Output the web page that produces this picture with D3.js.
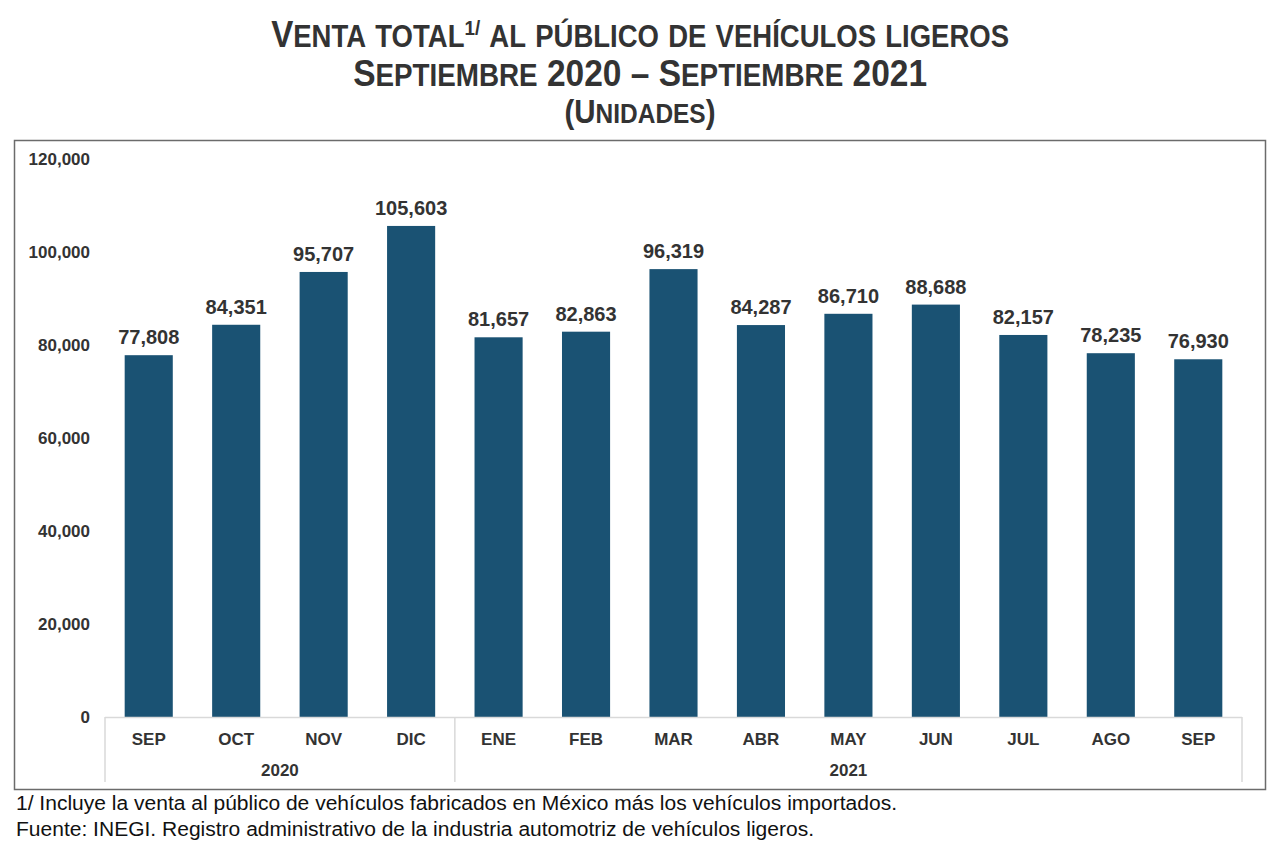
<!DOCTYPE html>
<html><head><meta charset="utf-8">
<script src="https://cdn.jsdelivr.net/npm/d3@7"></script>
<style>
body{margin:0;background:#fff;}
svg{display:block;}
</style></head>
<body>
<svg id="chart" width="1280" height="854"></svg>
<script>
const months = ["SEP","OCT","NOV","DIC","ENE","FEB","MAR","ABR","MAY","JUN","JUL","AGO","SEP"];
const years = ["2020","2020","2020","2020","2021","2021","2021","2021","2021","2021","2021","2021","2021"];
const values = [77808,84351,95707,105603,81657,82863,96319,84287,86710,88688,82157,78235,76930];
const yTicks = [0,20000,40000,60000,80000,100000,120000];
const yearGroups = ["2020","2021"];

const svg = d3.select("#chart");
const W = 1280, H = 854;
const sans = "'Liberation Sans',Arial,sans-serif";
const txt = "#333333";

svg.append("rect").attr("width",W).attr("height",H).attr("fill","#fff");

// Frame
svg.append("rect").attr("x",14.5).attr("y",140.5).attr("width",1251).attr("height",649)
  .attr("fill","none").attr("stroke","#6b6b6b").attr("stroke-width",1.5);

// Small caps helper
function smallCaps(sel, str, size, ratio, firstDy){
  const runs = [];
  for (const ch of str){
    const isLower = ch !== ch.toUpperCase();
    const type = isLower ? "s" : "b";
    if (runs.length && runs[runs.length-1].t === type) runs[runs.length-1].s += ch;
    else runs.push({t:type, s:ch});
  }
  runs.forEach((r,i) => {
    const ts = sel.append("tspan").attr("font-size", r.t==="s" ? size*ratio : size)
      .text(r.t==="s" ? r.s.toUpperCase() : r.s);
    if (i===0 && firstDy) ts.attr("dy", firstDy);
  });
}
// squeeze a centred line horizontally to a target width
function fitCentered(g, cx, target){
  const bb = g.node().getBBox();
  const s = target / bb.width;
  g.attr("transform", `translate(${cx},0) scale(${s},1) translate(${-cx},0)`);
}

const title = svg.append("g").attr("font-family",sans).attr("font-weight","bold").attr("fill",txt).attr("text-anchor","middle");
const g1 = title.append("g");
const t1 = g1.append("text").attr("x",640).attr("y",47).attr("xml:space","preserve");
smallCaps(t1, "Venta total", 37, 0.83);
t1.append("tspan").attr("font-size",21).attr("dy",-12).text("1/");
smallCaps(t1, " al público de vehículos ligeros", 37, 0.83, 12);
fitCentered(g1, 641, 738);
const g2 = title.append("g");
const t2 = g2.append("text").attr("x",640).attr("y",86);
smallCaps(t2, "Septiembre 2020 – Septiembre 2021", 37, 0.83);
fitCentered(g2, 641, 574);
const g3 = title.append("g");
const t3 = g3.append("text").attr("x",640).attr("y",123);
smallCaps(t3, "(Unidades)", 33, 0.83);
fitCentered(g3, 640, 151);

// Scales
const x = d3.scaleBand().domain(d3.range(months.length)).range([105,1242]).paddingInner(0.45).paddingOuter(0.225);
const y = d3.scaleLinear().domain([0,120000]).range([717,159]);

// Y axis
const yAxis = d3.axisLeft(y).tickValues(yTicks).tickSize(0).tickPadding(0).tickFormat(d3.format(","));
const ya = svg.append("g").attr("transform","translate(90,0)").call(yAxis);
ya.select(".domain").remove();
ya.selectAll("text").attr("font-family",sans).attr("font-weight","bold").attr("font-size",17).attr("fill",txt);

// Bars
svg.append("g").selectAll("rect").data(values).join("rect")
  .attr("x",(d,i)=>x(i)).attr("y",d=>y(d)).attr("width",x.bandwidth()).attr("height",d=>y(0)-y(d))
  .attr("fill","#1a5273");

// Value labels
svg.append("g").selectAll("text").data(values).join("text")
  .attr("x",(d,i)=>x(i)+x.bandwidth()/2).attr("y",d=>y(d)-11)
  .attr("text-anchor","middle").attr("font-family",sans).attr("font-weight","bold").attr("font-size",20).attr("fill",txt)
  .text(d=>d3.format(",")(d));

// X axis line
const axisCol = "#d9d9d9";
svg.append("line").attr("x1",105).attr("x2",1242).attr("y1",717.5).attr("y2",717.5).attr("stroke",axisCol).attr("stroke-width",1.5);

// Group separators
const step = x.step();
const bounds = [0];
yearGroups.forEach(g => { bounds.push(bounds[bounds.length-1] + years.filter(v=>v===g).length); });
svg.append("g").selectAll("line").data(bounds).join("line")
  .attr("x1",b=>105+b*step).attr("x2",b=>105+b*step).attr("y1",717).attr("y2",782)
  .attr("stroke",axisCol).attr("stroke-width",1.5);

// Month labels
svg.append("g").selectAll("text").data(months).join("text")
  .attr("x",(d,i)=>x(i)+x.bandwidth()/2).attr("y",745)
  .attr("text-anchor","middle").attr("font-family",sans).attr("font-weight","bold").attr("font-size",17).attr("fill",txt)
  .text(d=>d);

// Year labels
svg.append("g").selectAll("text").data(yearGroups).join("text")
  .attr("x",(g,i)=>105+(bounds[i]+bounds[i+1])/2*step).attr("y",776)
  .attr("text-anchor","middle").attr("font-family",sans).attr("font-weight","bold").attr("font-size",17).attr("fill",txt)
  .text(d=>d);

// Footnotes
const notes = ["1/ Incluye la venta al público de vehículos fabricados en México más los vehículos importados.",
  "Fuente: INEGI. Registro administrativo de la industria automotriz de vehículos ligeros."];
const noteW = [881, 798];
svg.append("g").selectAll("text").data(notes).join("text")
  .attr("x",16).attr("y",(d,i)=>810+i*26).attr("font-family",sans).attr("font-size",20).attr("fill","#111")
  .attr("textLength",(d,i)=>noteW[i]).attr("lengthAdjust","spacingAndGlyphs")
  .text(d=>d);
</script>
</body></html>
